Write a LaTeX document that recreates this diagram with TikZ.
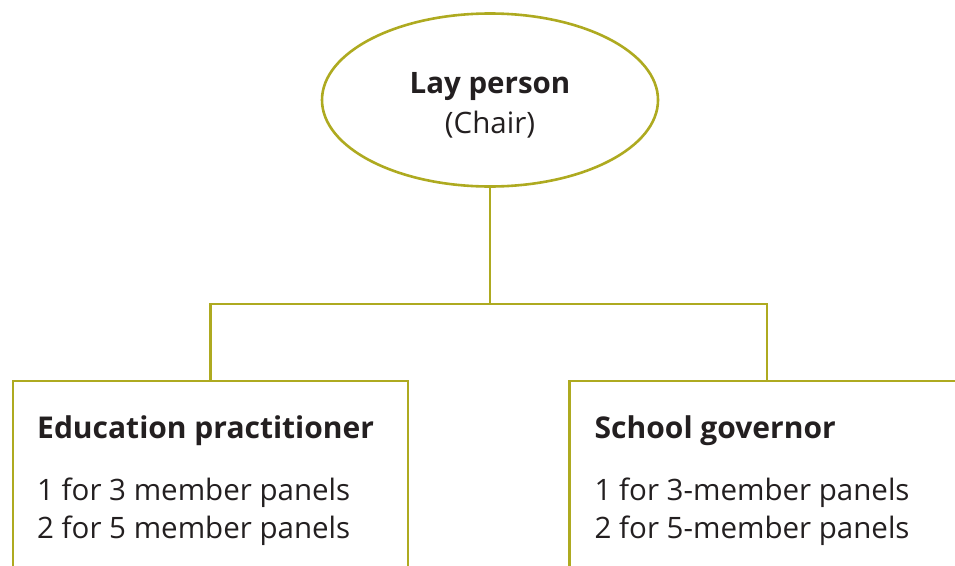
\documentclass[tikz,border=0pt]{standalone}
\usepackage{fontspec}
\setmainfont{Open Sans}
\usetikzlibrary{shapes.geometric,positioning}
\definecolor{olive}{RGB}{174,170,32}
\definecolor{ink}{RGB}{35,31,32}

\tikzset{
  link/.style={draw=olive, line width=2.6pt},
  chairnode/.style={ellipse, draw=olive, line width=2.6pt, minimum width=336pt,
    minimum height=173pt, inner sep=0pt, outer sep=0pt},
  chairtext/.style={align=center, text=ink, inner sep=0pt, anchor=base,
    font=\fontsize{29.5}{40}\selectfont},
  panelbox/.style={rectangle, draw=olive, line width=2.6pt, minimum width=395pt,
    minimum height=260pt, inner sep=0pt, outer sep=0pt, anchor=north},
  paneltitle/.style={font=\fontsize{30}{38}\selectfont\bfseries, text=ink,
    inner sep=0pt, anchor=base west},
  panellines/.style={font=\fontsize{29.5}{38}\selectfont, text=ink,
    inner sep=0pt, anchor=base west, align=left}
}

\begin{document}
\begin{tikzpicture}[x=1pt, y=-1pt]
    \clip (0,0) rectangle (955,565);

    % chair of the panel
    \node[chairnode] (chair) at (490,100) {};
    \node[chairtext] (chairText) at (490,133) {\textbf{Lay person}\\(Chair)};

    % the two other members
    \node[panelbox] (edu) at (210.5,381) {};
    \node[panelbox] (gov) at (767,381) {};

    \node[paneltitle] (eduTitle) at ([shift={(24,57)}]edu.north west) {Education practitioner};
    \node[panellines] (eduLines) at ([shift={(24,157)}]edu.north west) {1 for 3 member panels\\2 for 5 member panels};

    \node[paneltitle] (govTitle) at ([shift={(25,57)}]gov.north west) {School governor};
    \node[panellines] (govLines) at ([shift={(25,157)}]gov.north west) {1 for 3-member panels\\2 for 5-member panels};

    % tree
    \coordinate (fork) at (490,304);
    \draw[link] (chair.south) -- (fork);
    \draw[link] (edu.north) |- (fork) -| (gov.north);
\end{tikzpicture}
\end{document}
